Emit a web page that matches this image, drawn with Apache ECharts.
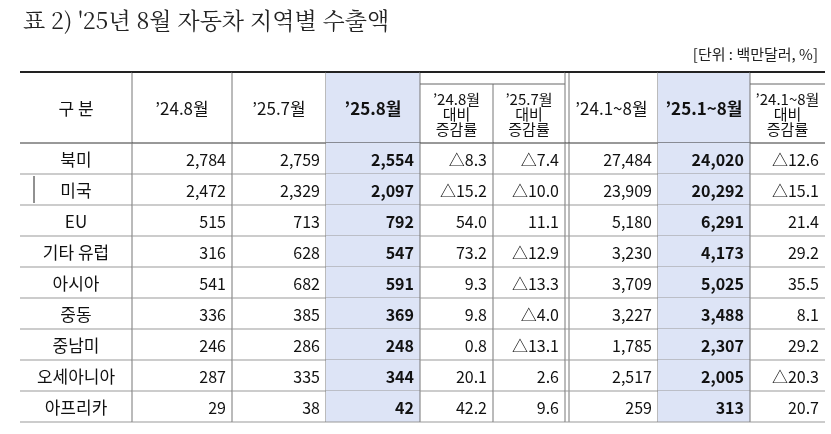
<!DOCTYPE html><html><head><meta charset="utf-8"><script src="https://cdn.jsdelivr.net/npm/echarts@6/dist/echarts.min.js"></script>
<style>body{margin:0;background:#fff}#c{width:831px;height:434px}</style></head><body><div id="c"></div><script>
const headers=['구 분','’24.8월','’25.7월','’25.8월','’24.8월\n대비\n증감률','’25.7월\n대비\n증감률','’24.1~8월','’25.1~8월','’24.1~8월\n대비\n증감률'];
const regions=['북미','미국','EU','기타 유럽','아시아','중동','중남미','오세아니아','아프리카'];
const aug24=['2,784','2,472','515','316','541','336','246','287','29'];
const jul25=['2,759','2,329','713','628','682','385','286','335','38'];
const aug25=['2,554','2,097','792','547','591','369','248','344','42'];
const yoyAug=['△8.3','△15.2','54.0','73.2','9.3','9.8','0.8','20.1','42.2'];
const momJul=['△7.4','△10.0','11.1','△12.9','△13.3','△4.0','△13.1','2.6','9.6'];
const ytd24=['27,484','23,909','5,180','3,230','3,709','3,227','1,785','2,517','259'];
const ytd25=['24,020','20,292','6,291','4,173','5,025','3,488','2,307','2,005','313'];
const ytdChg=['△12.6','△15.1','21.4','29.2','35.5','8.1','29.2','△20.3','20.7'];
const cols=[regions,aug24,jul25,aug25,yoyAug,momJul,ytd24,ytd25,ytdChg];
const edges=[0,112,212,306,400,473,545,638,730,805];
const HEAD=71,ROW=31;
const data=[];
headers.forEach((h,c)=>data.push([c,-1,h]));
cols.forEach((arr,c)=>arr.forEach((v,r)=>data.push([c,r,v])));
const shaded=[3,7],subHead=[4,5,8];
function yTop(r){return r<0?0:HEAD+r*ROW;}
function yBot(r){return r<0?HEAD:HEAD+(r+1)*ROW;}
const chart=echarts.init(document.getElementById('c'));
chart.setOption({
 animation:false,
 title:[{text:'표 2) \'25년 8월 자동차 지역별 수출액',left:18,top:4,textStyle:{fontFamily:'Noto Serif CJK KR, Noto Sans CJK KR',fontSize:23,fontWeight:'normal',color:'#222'}},
  {text:'[단위 : 백만달러, %]',right:8,top:42,textStyle:{fontFamily:'Noto Sans CJK KR',fontSize:15,fontWeight:'normal',color:'#222'}}],
 grid:{left:20,top:72,width:805,height:HEAD+ROW*9},
 xAxis:{type:'value',min:0,max:805,show:false},
 yAxis:{type:'value',min:0,max:HEAD+ROW*9,inverse:true,show:false},
 series:[{type:'custom',data:data,clip:false,
  renderItem:function(p,api){
   const c=api.value(0),r=api.value(1),t=data[p.dataIndex][2];
   const a=api.coord([edges[c],yTop(r)]),b=api.coord([edges[c+1],yBot(r)]);
   const x0=a[0],y0=a[1],x1=b[0],y1=b[1];
   const ch=[];
   const hdrSub=r<0&&subHead.includes(c);
   if(shaded.includes(c))ch.push({type:'rect',shape:{x:x0,y:y0,width:x1-x0,height:y1-y0},style:{fill:'#dde4f6'}});
   const ln='#777';
   ch.push({type:'line',shape:{x1:x0,y1:y1,x2:x1,y2:y1},style:{stroke:r<0?'#333':'#999',lineWidth:1}});
   if(r<0)ch.push({type:'line',shape:{x1:x0,y1:y0,x2:x1,y2:y0},style:{stroke:'#222',lineWidth:2}});
   if(hdrSub)ch.push({type:'line',shape:{x1:x0,y1:y0+12,x2:x1,y2:y0+12},style:{stroke:'#666',lineWidth:1}});
   if(c<8){
     const vy0=(hdrSub&&c===4)?y0+12:y0;
     ch.push({type:'line',shape:{x1:x1,y1:vy0,x2:x1,y2:y1},style:{stroke:ln,lineWidth:1}});
     if(c===5)ch.push({type:'line',shape:{x1:x1+4,y1:y0,x2:x1+4,y2:y1},style:{stroke:ln,lineWidth:1}});
   }
   if(c===0&&r===1)ch.push({type:'line',shape:{x1:x0+14,y1:y0+2,x2:x0+14,y2:y1-2},style:{stroke:'#222',lineWidth:1}});
   let tx,align;
   if(r<0||c===0){tx=(x0+x1)/2;align='center';}else{tx=x1-6;align='right';}
   const bold=shaded.includes(c);
   const fs=r<0&&subHead.includes(c)?15:(r<0?17:(c===0?17:16));
   ch.push({type:'text',style:{x:tx,y:(hdrSub?(y0+12+y1)/2:(y0+y1)/2)+1,text:t,align:align,verticalAlign:'middle',fill:'#111',
     font:(bold?'bold ':'')+fs+'px "Noto Sans CJK KR"',lineHeight:fs}});
   return {type:'group',children:ch};
  }}]
});
</script></body></html>
